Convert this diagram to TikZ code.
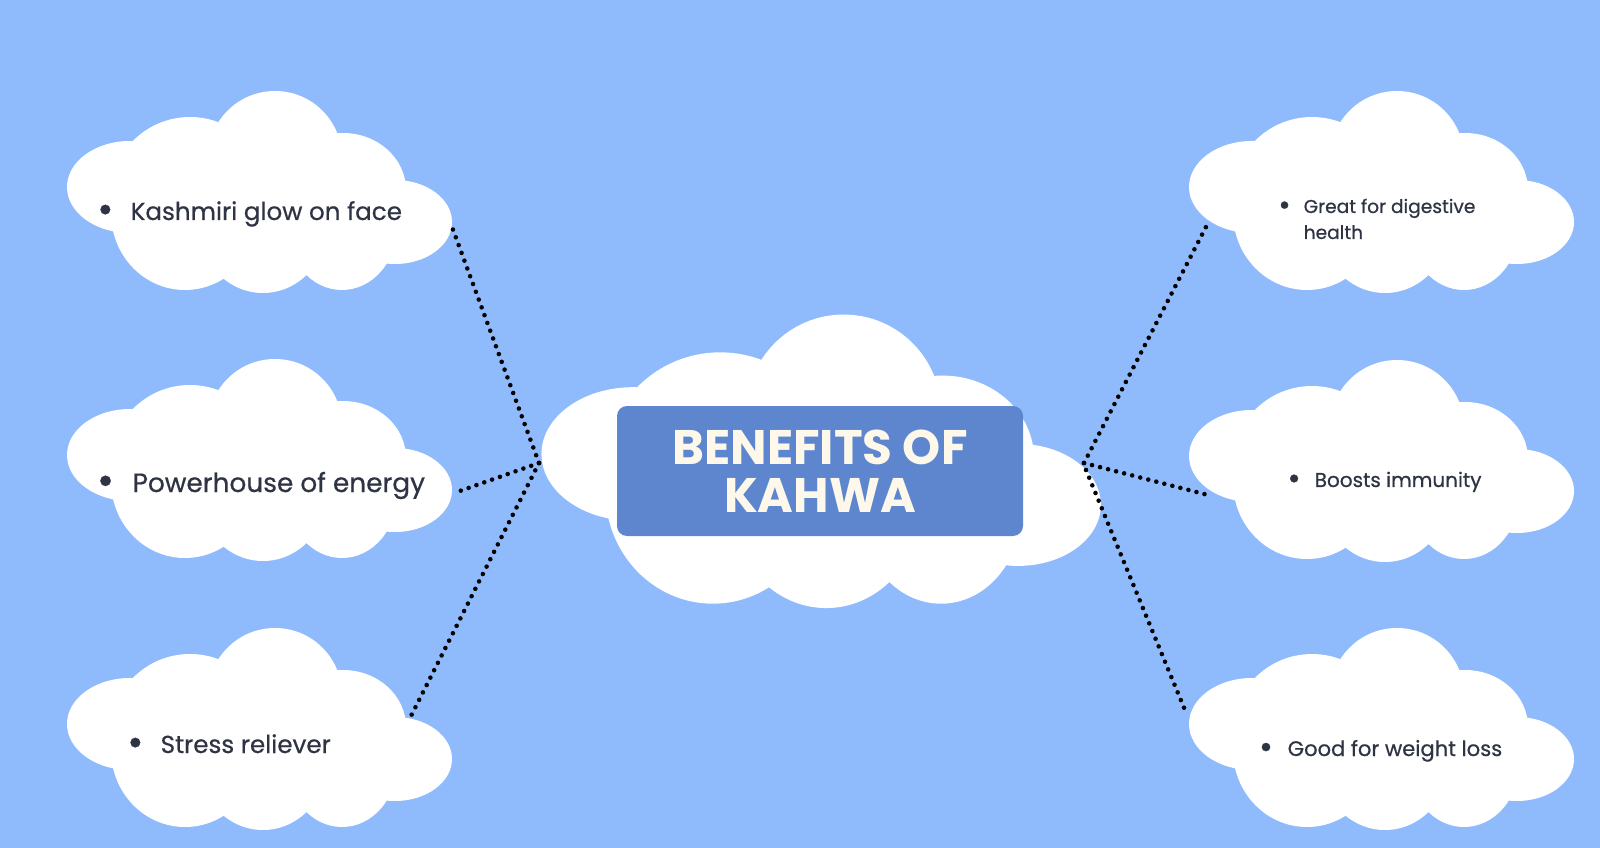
\documentclass[tikz,border=0pt]{standalone}
\usepackage{fontspec}
\setmainfont{Poppins}
\newfontfamily\itemfont{Poppins}[FakeBold=0.6]
\usepackage{tikz}
\usetikzlibrary{positioning,calc}
\definecolor{skyblue}{HTML}{8FBBFC}
\definecolor{kahwablue}{HTML}{5D86CF}
\definecolor{inkgray}{HTML}{2F3444}
\definecolor{creamwhite}{HTML}{FDF8EA}
\newcommand{\itembullet}{\llap{\raisebox{-0.2ex}{\scalebox{1.6}{\textbullet}}\hspace{0.7em}}}

\tikzset{
  cloud/.pic={
    \fill[white] (64,95) ellipse (63 and 46);
    \fill[white] (124,105) ellipse (80 and 80);
    \fill[white] (209,66) ellipse (67 and 67);
    \fill[white] (277,98) ellipse (63 and 57);
    \fill[white] (329,130) ellipse (57 and 42);
    \fill[white] (276,135) ellipse (55 and 63);
    \fill[white] (197,131) ellipse (65 and 70);
    \fill[white] (119,121) ellipse (74 and 77);
    \fill[white] (200,110) ellipse (130 and 70);
  },
  itemtext/.style={anchor=base west, inner sep=0pt, text=inkgray, align=left},
  dotline/.style={line width=1.3pt, line cap=round, dash pattern=on 0pt off 2.36pt}
}

\begin{document}
\begin{tikzpicture}[x=0.1mm, y=-0.1mm]
\fill[skyblue] (0,0) rectangle (1600,848);
\useasboundingbox (0,0) rectangle (1600,848);

% Clouds
\pic[scale=1.453] (cmain) at (540,316) {cloud};
\pic (cglow) at (66,92) {cloud};
\pic (cenergy) at (66,360) {cloud};
\pic (cstress) at (66,629) {cloud};
\pic (cdigest) at (1188,92) {cloud};
\pic (cimmune) at (1188,361) {cloud};
\pic (cweight) at (1188,629) {cloud};

% Title box
\node[fill=kahwablue, rounded corners=1mm, minimum width=4.06cm, minimum height=1.3cm, align=center, text=creamwhite, font=\fontsize{13.8}{13.7}\selectfont\bfseries] (title) at (820,471)
{BENEFITS OF\\KAHWA};

% Benefit texts
\node[itemtext, font=\itemfont\fontsize{7.0}{9}\selectfont] (glow) at (130,220) {\itembullet Kashmiri glow on face};
\node[itemtext, font=\itemfont\fontsize{7.5}{9}\selectfont] (energy) at (132,492) {\itembullet Powerhouse of energy};
\node[itemtext, font=\itemfont\fontsize{7.0}{9}\selectfont] (stress) at (160,753) {\itembullet Stress reliever};
\node[itemtext, font=\itemfont\fontsize{5.3}{7.4}\selectfont] (digest) at (1303,239) {\itembullet Great for digestive\\health};
\node[itemtext, font=\itemfont\fontsize{5.7}{7}\selectfont] (immune) at (1314,487) {\itembullet Boosts immunity};
\node[itemtext, font=\itemfont\fontsize{6.0}{7}\selectfont] (weight) at (1287,756) {\itembullet Good for weight loss};

% Connector ends
\coordinate (hubL) at (539,463);
\coordinate (hubR) at (1084,463);
\coordinate (hubRb) at (1086,470);
\coordinate (glowEnd) at (452,227);
\coordinate (energyEnd) at (457,492);
\coordinate (stressEnd) at (411,716);
\coordinate (digestEnd) at (1207,225);
\coordinate (immuneEnd) at (1208,495);
\coordinate (weightEnd) at (1187,715);

% Dotted connectors
\draw[dotline] (hubL) -- (glowEnd);
\draw[dotline] (hubL) -- (energyEnd);
\draw[dotline] (hubL) -- (stressEnd);
\draw[dotline] (hubR) -- (digestEnd);
\draw[dotline] (hubR) -- (immuneEnd);
\draw[dotline] (hubRb) -- (weightEnd);
\end{tikzpicture}
\end{document}
